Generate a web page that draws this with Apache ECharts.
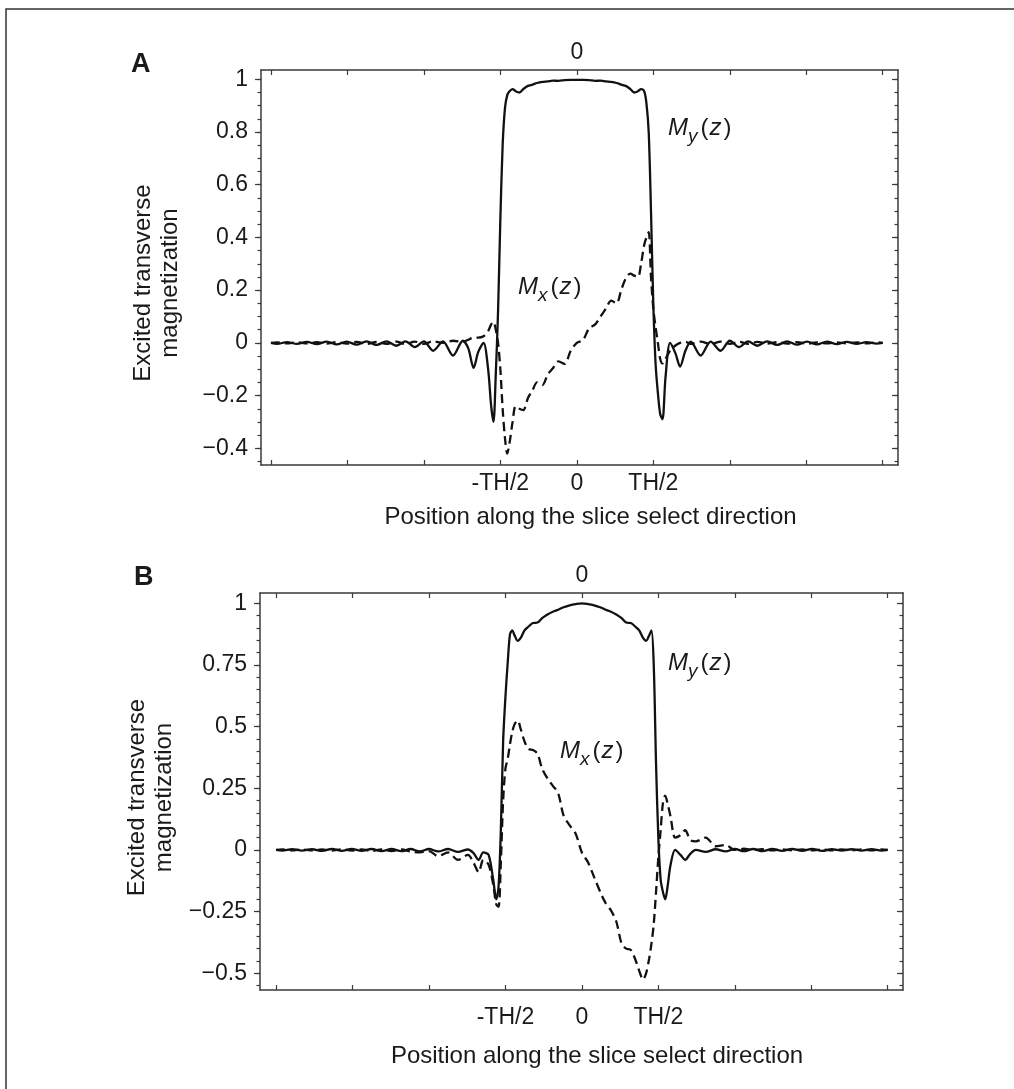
<!DOCTYPE html>
<html>
<head>
<meta charset="utf-8">
<title>Excited transverse magnetization</title>
<script src="https://cdn.jsdelivr.net/npm/echarts@6.0.0/dist/echarts.min.js"></script>
<style>
  html, body { margin: 0; padding: 0; background: #fff; }
  #main { width: 1014px; height: 1089px; }
</style>
</head>
<body>
<div id="main"></div>
<script>
// position along the slice direction, in units of TH/2
var pos = [
  -4.00, -3.92, -3.79, -3.66, -3.53, -3.40, -3.27, -3.14, -3.01, -2.88, -2.75, -2.62, -2.49, -2.36, -2.24, -2.12,
  -2.00, -1.88, -1.75, -1.62, -1.49, -1.42, -1.35, -1.29, -1.22, -1.16, -1.12, -1.09, -1.06, -1.03, -1.00, -0.97,
  -0.94, -0.91, -0.88, -0.84, -0.80, -0.75, -0.70, -0.64, -0.58, -0.52, -0.45, -0.38, -0.31, -0.24, -0.16, -0.08, 0.00,
  0.08, 0.16, 0.24, 0.31, 0.38, 0.45, 0.52, 0.58, 0.64, 0.70, 0.75, 0.80, 0.84, 0.88, 0.91, 0.94, 0.97,
  1.00, 1.03, 1.06, 1.09, 1.12, 1.16, 1.22, 1.29, 1.35, 1.42, 1.49, 1.62, 1.75, 1.88, 2.00, 2.12,
  2.24, 2.36, 2.49, 2.62, 2.75, 2.88, 3.01, 3.14, 3.27, 3.40, 3.53, 3.66, 3.79, 3.92, 4.00
];

// panel A
var myA = [
  0.000, -0.004, 0.003, -0.004, 0.004, -0.005, 0.005, -0.006, 0.005, -0.007, 0.006, -0.008, 0.006, -0.011, 0.006, -0.016,
  0.006, -0.030, 0.006, -0.048, 0.008, -0.020, -0.095, -0.035, 0.000, -0.100, -0.240, -0.300, -0.120, 0.120, 0.470, 0.750,
  0.890, 0.940, 0.955, 0.963, 0.955, 0.950, 0.963, 0.975, 0.980, 0.986, 0.990, 0.992, 0.995, 0.994, 0.997, 0.998, 0.998,
  0.998, 0.997, 0.994, 0.995, 0.992, 0.990, 0.986, 0.980, 0.975, 0.963, 0.950, 0.955, 0.963, 0.955, 0.910, 0.800, 0.500,
  0.150, -0.080, -0.190, -0.270, -0.290, -0.130, 0.000, -0.040, -0.090, -0.030, 0.005, -0.048, 0.005, -0.030, 0.008, -0.016,
  0.006, -0.011, 0.006, -0.008, 0.006, -0.007, 0.005, -0.006, 0.005, -0.005, 0.004, -0.004, 0.003, -0.003, 0.000
];
var mxA = [
  0.000, 0.002, -0.002, 0.002, -0.002, 0.003, -0.003, 0.003, -0.003, 0.004, -0.004, 0.004, -0.004, 0.005, -0.005, 0.005,
  -0.004, 0.006, 0.000, 0.008, 0.004, 0.012, 0.020, 0.020, 0.025, 0.045, 0.070, 0.080, 0.050, 0.000, -0.100, -0.250,
  -0.360, -0.420, -0.380, -0.300, -0.240, -0.250, -0.255, -0.210, -0.180, -0.150, -0.160, -0.120, -0.095, -0.070, -0.080, -0.030, 0.000,
  0.010, 0.055, 0.070, 0.100, 0.130, 0.160, 0.150, 0.200, 0.245, 0.263, 0.255, 0.250, 0.300, 0.370, 0.400, 0.420, 0.250,
  0.130, 0.060, 0.000, -0.060, -0.078, -0.060, -0.030, -0.010, 0.000, 0.004, -0.004, 0.005, -0.005, 0.005, -0.004, 0.004,
  -0.004, 0.004, -0.003, 0.003, -0.003, 0.003, -0.003, 0.002, -0.002, 0.002, -0.002, 0.002, -0.002, 0.002, 0.000
];

// panel B
var myB = [
  0.000, -0.003, 0.003, -0.003, 0.003, -0.004, 0.004, -0.004, 0.004, -0.004, 0.004, -0.005, 0.004, -0.005, 0.004, -0.006,
  0.004, -0.006, 0.004, -0.008, 0.002, -0.012, -0.040, -0.010, -0.020, -0.120, -0.200, -0.150, 0.080, 0.440, 0.620, 0.760,
  0.875, 0.890, 0.870, 0.848, 0.860, 0.890, 0.905, 0.920, 0.922, 0.940, 0.955, 0.966, 0.974, 0.984, 0.992, 0.997, 1.000,
  0.997, 0.992, 0.984, 0.974, 0.966, 0.955, 0.940, 0.922, 0.920, 0.905, 0.890, 0.860, 0.848, 0.870, 0.890, 0.750, 0.350,
  0.050, -0.120, -0.170, -0.200, -0.150, -0.060, 0.000, -0.020, -0.040, -0.015, 0.000, -0.008, 0.003, -0.006, 0.004, -0.005,
  0.004, -0.005, 0.004, -0.004, 0.004, -0.004, 0.004, -0.004, 0.003, -0.003, 0.003, -0.003, 0.003, -0.003, 0.000
];
var mxB = [
  0.000, 0.002, -0.002, 0.002, -0.002, 0.002, -0.003, 0.003, -0.003, 0.002, -0.004, 0.002, -0.005, 0.002, -0.006, -0.010,
  -0.005, -0.025, -0.010, -0.040, -0.020, -0.050, -0.090, -0.040, -0.060, -0.140, -0.220, -0.230, -0.050, 0.200, 0.330, 0.370,
  0.430, 0.480, 0.510, 0.525, 0.490, 0.440, 0.410, 0.405, 0.390, 0.330, 0.290, 0.260, 0.230, 0.140, 0.100, 0.065, -0.010,
  -0.050, -0.110, -0.170, -0.215, -0.245, -0.290, -0.380, -0.400, -0.405, -0.445, -0.490, -0.525, -0.500, -0.440, -0.380, -0.300, -0.170,
  -0.030, 0.080, 0.190, 0.220, 0.190, 0.135, 0.050, 0.060, 0.080, 0.040, 0.035, 0.050, 0.015, 0.020, 0.000, 0.005,
  0.000, 0.003, -0.002, 0.002, -0.002, 0.002, -0.002, 0.002, -0.002, 0.002, -0.002, 0.002, -0.002, 0.002, 0.000
];

// ticks and labels
var xTicks = [-4, -3, -2, -1, 0, 1, 2, 3, 4];
var xLabelVals = [-1, 0, 1];
var xLabelText = ['-TH/2', '0', 'TH/2'];
var topLabelVals = [0];
var yTicksA = [-0.4, -0.2, 0, 0.2, 0.4, 0.6, 0.8, 1];
var yTicksB = [-0.5, -0.25, 0, 0.25, 0.5, 0.75, 1];

var FONT = '"Liberation Sans", Arial, Helvetica, sans-serif';
var INK = '#1a1a1a';
var AXIS = '#3a3a3a';

function pairs(ys) {
  var out = [];
  for (var i = 0; i < pos.length; i++) out.push([pos[i], ys[i]]);
  return out;
}

function steps(lo, hi, st) {
  var out = [];
  for (var v = lo; v <= hi + 1e-9; v += st) out.push(Math.round(v * 100) / 100);
  return out;
}

function yFmt(v) {
  return v < 0 ? '\u2212' + (-v) : String(v);
}

function xFmt(v) {
  var i = xLabelVals.indexOf(v);
  return i < 0 ? '' : xLabelText[i];
}

function xAxes(g, min, max, labelMargin, nameGap, namePad) {
  var line = { show: true, onZero: false, lineStyle: { color: AXIS, width: 1.5 } };
  var tick = { show: true, inside: true, length: 5, customValues: xTicks, lineStyle: { color: AXIS, width: 1.2 } };
  return [{
    type: 'value', gridIndex: g, position: 'bottom', min: min, max: max,
    axisLine: line, axisTick: tick, splitLine: { show: false },
    axisLabel: { customValues: xLabelVals, formatter: xFmt, margin: labelMargin, fontSize: 23, color: INK, fontFamily: FONT },
    name: 'Position along the slice select direction', nameLocation: 'middle', nameGap: nameGap,
    nameTextStyle: { fontSize: 24, color: INK, fontFamily: FONT, padding: namePad }
  }, {
    type: 'value', gridIndex: g, position: 'top', min: min, max: max,
    axisLine: line, axisTick: tick, splitLine: { show: false },
    axisLabel: { customValues: topLabelVals, margin: 6, fontSize: 23, color: INK, fontFamily: FONT }
  }];
}

function yAxes(g, min, max, ticks, minor, nameGap, namePad) {
  var tickStyle = { color: AXIS, width: 1.2 };
  return [{
    type: 'value', gridIndex: g, position: 'left', min: min, max: max, splitLine: { show: false },
    axisLine: { show: true, onZero: false, lineStyle: { color: AXIS, width: 1.5 } },
    axisTick: { show: true, length: 6, customValues: ticks, lineStyle: tickStyle },
    axisLabel: { customValues: ticks, formatter: yFmt, margin: 13, fontSize: 23, color: INK, fontFamily: FONT },
    name: 'Excited transverse\nmagnetization', nameLocation: 'middle', nameRotate: 90, nameGap: nameGap,
    nameTextStyle: { fontSize: 24, lineHeight: 27, color: INK, fontFamily: FONT, padding: namePad }
  }, {
    type: 'value', gridIndex: g, position: 'left', min: min, max: max, splitLine: { show: false },
    axisLine: { show: false, onZero: false },
    axisTick: { show: true, length: 3.5, customValues: minor, lineStyle: tickStyle },
    axisLabel: { show: false }
  }, {
    type: 'value', gridIndex: g, position: 'right', min: min, max: max, splitLine: { show: false },
    axisLine: { show: true, onZero: false, lineStyle: { color: AXIS, width: 1.5 } },
    axisTick: { show: true, inside: true, length: 6, customValues: ticks, lineStyle: tickStyle },
    axisLabel: { show: false }
  }, {
    type: 'value', gridIndex: g, position: 'right', min: min, max: max, splitLine: { show: false },
    axisLine: { show: false, onZero: false },
    axisTick: { show: true, inside: true, length: 3.5, customValues: minor, lineStyle: tickStyle },
    axisLabel: { show: false }
  }];
}

function curve(name, g, ys, dashed) {
  return {
    name: name, type: 'line', xAxisIndex: g * 2, yAxisIndex: g * 4,
    data: pairs(ys), symbol: 'none', showSymbol: false, smooth: 0.3, silent: true,
    lineStyle: { color: '#111', width: 2.3, type: dashed ? [9, 5] : 'solid' },
    z: dashed ? 2 : 3
  };
}

function mLabel(x, y, sub) {
  return {
    type: 'text', x: x, y: y, silent: true,
    style: {
      text: '{m|M}{s|' + sub + '}{p|(}{z|z}{q|)}',
      fill: INK, fontFamily: FONT, fontSize: 24, verticalAlign: 'middle', align: 'left',
      rich: {
        m: { fontStyle: 'italic', fontSize: 24, fontFamily: FONT },
        s: { fontStyle: 'italic', fontSize: 19, fontFamily: FONT, padding: [17, 0, 0, 0] },
        p: { fontSize: 24, fontFamily: FONT, padding: [0, 1, 0, 3] },
        z: { fontStyle: 'italic', fontSize: 24, fontFamily: FONT },
        q: { fontSize: 24, fontFamily: FONT, padding: [0, 0, 0, 2] }
      }
    }
  };
}

var myChart = echarts.init(document.getElementById('main'), null, { renderer: 'canvas' });

var option = {
  animation: false,
  backgroundColor: '#fff',
  grid: [
    { left: 261, top: 70, width: 637, height: 395, outerBoundsMode: 'none' },
    { left: 260, top: 593, width: 643, height: 397, outerBoundsMode: 'none' }
  ],
  xAxis: xAxes(0, -4.13, 4.20, 7, 40, [0, 0, 0, 22]).concat(xAxes(1, -4.21, 4.20, 16, 54, [0, 0, 0, 31])),
  yAxis: yAxes(0, -0.4634, 1.0353, yTicksA, steps(-0.45, 1, 0.05), 77, [0, 31, 0, 0])
    .concat(yAxes(1, -0.5677, 1.0418, yTicksB, steps(-0.55, 1, 0.05), 76, [0, 12, 0, 0])),
  series: [
    curve('My A', 0, myA, false),
    curve('Mx A', 0, mxA, true),
    curve('My B', 1, myB, false),
    curve('Mx B', 1, mxB, true)
  ],
  graphic: [
    { type: 'rect', silent: true, shape: { x: 6, y: 9, width: 1100, height: 1200 },
      style: { fill: 'none', stroke: '#333', lineWidth: 1.5 } },
    { type: 'text', x: 131, y: 65, silent: true,
      style: { text: 'A', fill: INK, fontFamily: FONT, fontSize: 27, fontWeight: 'bold', verticalAlign: 'middle' } },
    { type: 'text', x: 134, y: 578, silent: true,
      style: { text: 'B', fill: INK, fontFamily: FONT, fontSize: 27, fontWeight: 'bold', verticalAlign: 'middle' } },
    mLabel(668, 128, 'y'),
    mLabel(518, 287, 'x'),
    mLabel(668, 663, 'y'),
    mLabel(560, 751, 'x')
  ]
};

myChart.setOption(option);
</script>
</body>
</html>
